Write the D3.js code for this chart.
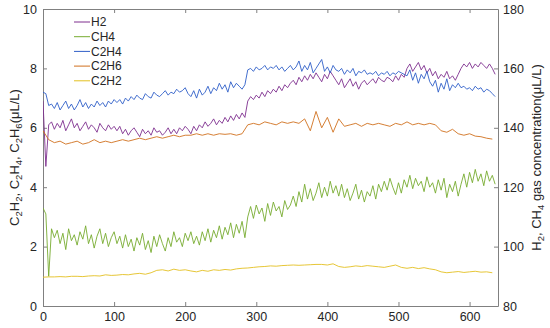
<!DOCTYPE html>
<html>
<head>
<meta charset="utf-8">
<script src="https://cdn.jsdelivr.net/npm/d3@7"></script>
<style>
  body { margin: 0; background: #fff; }
  text { font-family: "Liberation Sans", Arial, sans-serif; fill: #262626; }
</style>
</head>
<body>
<script>
// sample spacing of the noisy series and of the smooth ones (x units)
const stepFine = 4;
const stepCoarse = 8;

// H2, right axis (uL/L), one value every 4 units
const h2 = [149, 127, 141,
  142, 139.5, 141.5, 140, 142.5, 139, 141, 143, 140, 141.5, 139, 140.5, 142, 139.5, 141, 140, 138.5, 141.5, 140, 139, 141, 139.5, 140.5,
  139, 140.5, 138, 139.5, 137.5, 139, 140, 138.5, 137, 139.5, 138, 139, 137.5, 140, 138.5, 139, 137.5, 138.5, 140, 138, 139.5, 138, 140, 139, 140.5,
  139.5, 138, 140.5, 139, 141, 140, 142, 140.5, 141.5, 143, 141, 142.5, 141.5, 143.5, 142, 144, 142.5, 144.5, 143, 145, 143.5,
  149, 150.5, 149.5, 151, 150, 152, 150.5, 152.5, 151.5, 153, 152, 154, 152.5, 154.5, 153.5, 155,
  156, 154.5, 157, 155.5, 157.5, 156, 158, 156.5, 158.5, 157, 155.5, 158, 156.5, 159, 157.5, 156,
  154.5, 156.5, 153.5, 155, 156.5, 154, 155.5, 153, 155, 156, 154.5,
  155.5, 156.5, 155, 157, 156, 155.5, 157, 156.5, 155.5, 157.5, 156, 158, 157,
  160, 161.5, 159, 160.5, 162, 159.5, 161, 158.5, 160,
  157.5, 159, 156.5, 158, 157, 159, 156.5, 157.5, 156, 158,
  160, 161.5, 160.5, 162, 160, 161.5, 160.5, 162, 161, 160, 161.5, 160, 158];

// CH4, right axis (uL/L)
const ch4 = [113, 111, 90,
  106, 103, 105.5, 101, 104.5, 99, 106, 102, 104, 100.5, 105, 102.5, 107, 101, 104, 99.5, 103.5, 106, 101, 104.5, 100, 103, 105,
  101, 103.5, 99.5, 104, 100, 102.5, 98.5, 103, 100.5, 104.5, 99, 102, 98, 103.5, 100, 104, 101, 98.5, 103, 100, 105, 101.5, 103, 100, 104.5,
  102, 105, 101, 103.5, 100.5, 105, 102, 106, 101.5, 105.5, 103, 107, 102.5, 106.5, 104, 108, 103, 107.5, 104.5, 108.5, 103,
  110, 113.5, 109.5, 114, 111, 113, 108.5, 114.5, 110.5, 115, 112, 113.5, 110, 115.5, 112.5, 114,
  117, 113.5, 118.5, 115, 121, 116, 119.5, 115.5, 118, 121.5, 116.5, 120, 117, 122, 118, 120.5,
  117, 121, 116.5, 119.5, 115.5, 118, 121, 116, 119, 115, 118.5,
  117, 120.5, 116, 121, 118.5, 122, 119, 123, 120, 117.5, 121.5, 118, 122.5,
  120, 124, 119.5, 123, 120.5, 122, 118.5, 123.5, 120,
  121.5, 118, 122.5, 119, 123, 116.5, 121, 118.5, 122, 117,
  121, 124.5, 120, 125, 121.5, 126, 122, 124.5, 120.5, 125.5, 122, 124, 121];

// C2H4, left axis (uL/L)
const c2h4 = [7.2, 7.15, 6.75,
  6.8, 6.65, 6.85, 6.6, 6.75, 6.9, 6.65, 6.8, 6.6, 6.75, 6.95, 6.7, 6.85, 6.65, 6.8, 6.7, 6.9, 6.75, 6.85, 6.7, 6.9, 6.8, 6.95,
  6.85, 6.95, 6.8, 7.0, 6.9, 7.05, 6.95, 7.1, 7.0, 6.95, 7.15, 7.05, 7.0, 7.2, 7.1, 7.05, 7.15, 7.25, 7.1, 7.2, 7.15, 7.3, 7.2, 7.25, 7.35,
  7.15, 7.05, 7.25, 7.0, 7.3, 7.1, 7.2, 7.4, 7.15, 7.35, 7.25, 7.5, 7.3, 7.45, 7.2, 7.55, 7.35, 7.5, 7.4, 7.3, 7.45,
  7.95, 8.0, 7.9, 8.05, 7.95, 8.0, 8.1, 7.95, 8.05, 8.0, 8.1, 7.95, 8.05, 7.9, 8.0, 8.1,
  7.95, 8.05, 8.25, 7.9, 8.1, 7.95, 8.2, 7.85, 8.0, 8.15, 8.3, 7.9, 8.05, 7.85, 8.1, 7.95,
  7.9, 8.0, 7.8, 7.95, 7.85, 8.0, 7.75, 7.9, 7.85, 7.95, 7.8,
  7.85, 7.8, 7.9, 7.75, 7.85, 7.8, 7.9, 7.75, 7.85, 7.8, 7.9, 7.85, 7.8,
  7.75, 7.95, 7.6, 7.85, 7.5, 7.8, 7.65, 7.9, 7.55,
  7.4, 7.6, 7.2, 7.5, 7.3, 7.65, 7.25, 7.45, 7.35, 7.5,
  7.35, 7.4, 7.3, 7.35, 7.25, 7.4, 7.3, 7.35, 7.2, 7.3, 7.25, 7.15, 7.05];

// C2H6, left axis, one value every 8 units
const c2h6 = [5.9, 5.6,
  5.5, 5.55, 5.45, 5.5, 5.55, 5.45, 5.5, 5.6, 5.5, 5.55, 5.5,
  5.55, 5.6, 5.55, 5.6, 5.65, 5.6, 5.65, 5.7, 5.65, 5.7, 5.75, 5.7, 5.75,
  5.75, 5.8, 5.75, 5.8, 5.75, 5.8, 5.78, 5.8, 5.75, 5.8,
  6.1, 6.15, 6.1, 6.2, 6.15, 6.1, 6.2, 6.15, 6.2, 6.15,
  6.3, 5.9, 6.55, 6.0, 6.35, 5.85, 6.3, 6.05,
  6.1, 6.15, 6.05, 6.15, 6.1, 6.15, 6.1, 6.05, 6.15, 6.1, 6.2, 6.1, 6.15, 6.1, 6.15, 6.1,
  5.9, 5.85, 5.95, 5.8, 5.75, 5.8, 5.72, 5.7, 5.65, 5.62];

// C2H2, left axis
const c2h2 = [0.97, 0.98,
  0.98, 0.99, 0.98, 1.0, 1.0, 0.99, 1.01, 1.02, 1.01, 1.05, 1.03,
  1.04, 1.06, 1.05, 1.08, 1.1, 1.07, 1.12, 1.2, 1.22, 1.18, 1.24, 1.2, 1.22,
  1.18, 1.15, 1.2, 1.17, 1.22, 1.2, 1.23, 1.21, 1.25, 1.27,
  1.28, 1.3, 1.32, 1.33, 1.35, 1.34, 1.36, 1.37, 1.38, 1.37,
  1.38, 1.39, 1.4, 1.4, 1.38, 1.42, 1.33, 1.3,
  1.32, 1.35, 1.33, 1.36, 1.34, 1.32, 1.3, 1.34, 1.38, 1.3, 1.27, 1.3, 1.26, 1.29, 1.25, 1.22,
  1.15, 1.12, 1.14, 1.16, 1.13, 1.15, 1.17, 1.14, 1.15, 1.12];

const xTicks = [0, 100, 200, 300, 400, 500, 600];
const leftTicks = [0, 2, 4, 6, 8, 10];
const rightTicks = [80, 100, 120, 140, 160, 180];

const series = [
  { name: 'H2', values: h2, step: stepFine, axis: 'right', color: '#7E2F8E' },
  { name: 'CH4', values: ch4, step: stepFine, axis: 'right', color: '#77AC30' },
  { name: 'C2H4', values: c2h4, step: stepFine, axis: 'left', color: '#2F5FC8' },
  { name: 'C2H6', values: c2h6, step: stepCoarse, axis: 'left', color: '#D0701E' },
  { name: 'C2H2', values: c2h2, step: stepCoarse, axis: 'left', color: '#E3C020' }
];

const w = 550;
const h = 328;
const margin = { top: 9, right: 52, bottom: 22, left: 43 };
const innerWidth = w - margin.left - margin.right;
const innerHeight = h - margin.top - margin.bottom;

const svg = d3.select('body').append('svg')
  .attr('width', w)
  .attr('height', h);

const g = svg.append('g')
  .attr('transform', `translate(${margin.left},${margin.top})`);

const xScale = d3.scaleLinear().domain([0, 640]).range([0, innerWidth]);
const yLeft = d3.scaleLinear().domain([0, 10]).range([innerHeight, 0]);
const yRight = d3.scaleLinear().domain([80, 180]).range([innerHeight, 0]);

const axisColor = '#808080';

// axes, ticks pointing inward like matlab
const xAxisG = g.append('g')
  .attr('transform', `translate(0,${innerHeight})`)
  .call(d3.axisBottom(xScale).tickValues(xTicks).tickSizeInner(-4).tickSizeOuter(0).tickPadding(6));

const xTopG = g.append('g')
  .call(d3.axisTop(xScale).tickValues(xTicks).tickSizeInner(-4).tickSizeOuter(0).tickFormat(''));

const yLeftG = g.append('g')
  .call(d3.axisLeft(yLeft).tickValues(leftTicks).tickSizeInner(-4).tickSizeOuter(0).tickPadding(6));

const yRightG = g.append('g')
  .attr('transform', `translate(${innerWidth},0)`)
  .call(d3.axisRight(yRight).tickValues(rightTicks).tickSizeInner(-4).tickSizeOuter(0).tickPadding(5));

[xAxisG, xTopG, yLeftG, yRightG].forEach(a => {
  a.select('.domain').attr('stroke', axisColor);
  a.selectAll('.tick line').attr('stroke', axisColor);
  a.selectAll('.tick text')
    .style('font-family', '"Liberation Sans", Arial, sans-serif')
    .style('font-size', '12.5px')
    .attr('fill', '#262626');
});

// lines
g.append('clipPath').attr('id', 'plotclip')
  .append('rect').attr('width', innerWidth).attr('height', innerHeight);

series.forEach(s => {
  const yScale = s.axis === 'left' ? yLeft : yRight;
  const line = d3.line()
    .x((d, i) => xScale(i * s.step))
    .y(d => yScale(d));
  g.append('path')
    .datum(s.values)
    .attr('clip-path', 'url(#plotclip)')
    .attr('fill', 'none')
    .attr('stroke', s.color)
    .attr('stroke-width', 0.9)
    .attr('stroke-linejoin', 'round')
    .attr('d', line);
});

// legend, no box
const legend = svg.append('g').attr('transform', 'translate(74,22)');
series.forEach((s, i) => {
  const row = legend.append('g').attr('transform', `translate(0,${i * 14.7})`);
  row.append('line')
    .attr('x1', 0).attr('x2', 16)
    .attr('stroke', s.color)
    .attr('stroke-width', 1);
  row.append('text')
    .attr('x', 17)
    .attr('dy', '0.35em')
    .style('font-size', '12px')
    .text(s.name);
});

// axis titles with subscripts, the shift back up goes on the next normal piece
function subLabel(sel, parts) {
  let down = false;
  parts.forEach(p => {
    const t = sel.append('tspan').text(p.t);
    if (p.sub) {
      t.attr('dy', 3).style('font-size', '9.5px');
      down = true;
    } else if (down) {
      t.attr('dy', -3);
      down = false;
    }
  });
}

const leftLabel = svg.append('text')
  .attr('transform', `translate(19,${margin.top + innerHeight / 2}) rotate(-90)`)
  .attr('text-anchor', 'middle')
  .style('font-size', '13px');
subLabel(leftLabel, [
  { t: 'C' }, { t: '2', sub: true }, { t: 'H' }, { t: '2', sub: true }, { t: ', C' },
  { t: '2', sub: true }, { t: 'H' }, { t: '4', sub: true }, { t: ', C' },
  { t: '2', sub: true }, { t: 'H' }, { t: '6', sub: true }, { t: '(μL/L)' }
]);

const rightLabel = svg.append('text')
  .attr('transform', `translate(541,${margin.top + innerHeight / 2}) rotate(-90)`)
  .attr('text-anchor', 'middle')
  .style('font-size', '13px');
subLabel(rightLabel, [
  { t: 'H' }, { t: '2', sub: true }, { t: ', CH' }, { t: '4', sub: true },
  { t: ' gas concentration(μL/L)' }
]);
</script>
</body>
</html>
